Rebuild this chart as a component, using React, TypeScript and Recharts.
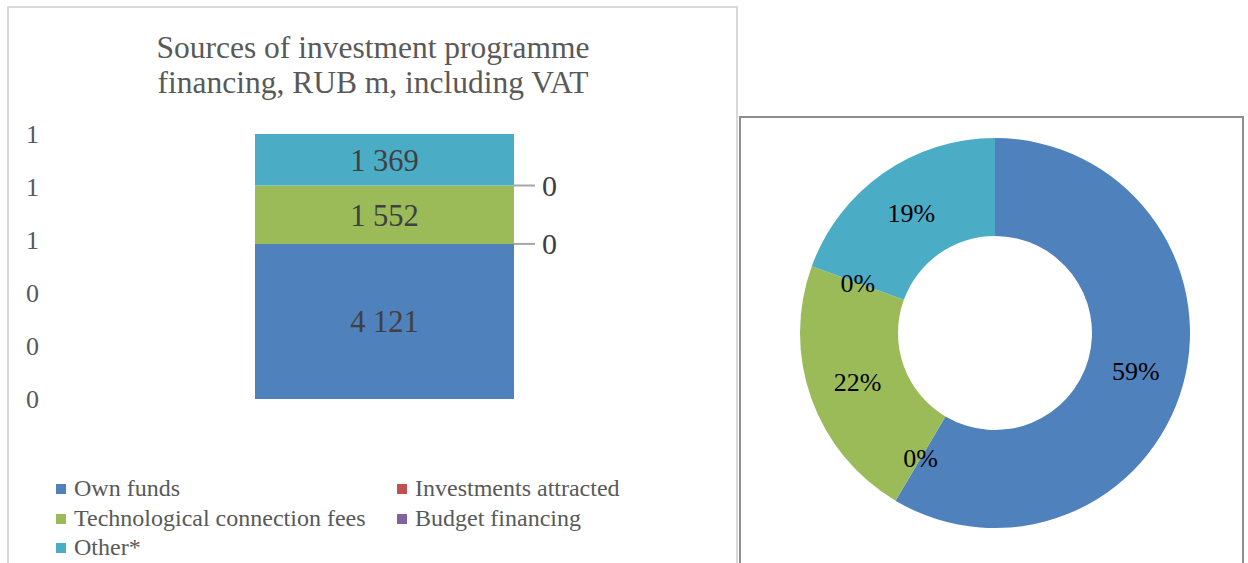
import React from 'react';
import { BarChart, Bar, XAxis, YAxis, LabelList, PieChart, Pie, Cell } from 'recharts';

const seriesKeys = ['own', 'inv', 'tech', 'budget', 'other'];
const seriesNames = ['Own funds', 'Investments attracted', 'Technological connection fees', 'Budget financing', 'Other*'];
const seriesValues = [4121, 0, 1552, 0, 1369];
const seriesColors = ['#4f81bd', '#c0504d', '#9bbb59', '#8064a2', '#4bacc6'];
const categories = ['Total'];
const yTickValues = [0, 0.2, 0.4, 0.6, 0.8, 1];
const yTickLabels = ['0', '0', '0', '1', '1', '1'];
const titleLines = ['Sources of investment programme', 'financing, RUB m, including VAT'];

const barData = categories.map((c) => {
  const row: Record<string, any> = { name: c };
  seriesKeys.forEach((k, i) => {
    row[k] = seriesValues[i];
  });
  return row;
});

const pieData = seriesNames.map((n, i) => ({ name: n, value: seriesValues[i] }));

const FONT = "'Liberation Serif', 'DejaVu Serif', serif";
const fmt = (v: any) => String(v).replace(/\B(?=(\d{3})+(?!\d))/g, ' ');

// label for a zero-valued series, drawn at the top edge of the segment below it
const makeZeroLabel = (zeroKey: string) => (props: any) => {
  const { x, y, width, index } = props;
  const xr = Number(x) + Number(width);
  const yy = Number(y);
  const v = barData[index ?? 0][zeroKey];
  return (
    <g>
      <line x1={xr} y1={yy} x2={xr + 21} y2={yy} stroke="#a6a6a6" strokeWidth={2} />
      <text
        x={xr + 28}
        y={yy}
        dominantBaseline="central"
        fill="#404040"
        fontSize={30}
        fontFamily={FONT}
      >
        {fmt(v)}
      </text>
    </g>
  );
};

const RAD = Math.PI / 180;
const renderPieLabel = (props: any) => {
  const { cx, cy, midAngle, innerRadius, outerRadius, percent } = props;
  const r = (Number(innerRadius) + Number(outerRadius)) / 2;
  const x = Number(cx) + r * Math.cos(-midAngle * RAD);
  const y = Number(cy) + r * Math.sin(-midAngle * RAD);
  return (
    <text
      x={x}
      y={y}
      textAnchor="middle"
      dominantBaseline="central"
      fill="#000000"
      fontSize={26}
      fontFamily={FONT}
    >
      {`${Math.round(percent * 100)}%`}
    </text>
  );
};

export default function App() {
  return (
    <div
      style={{
        position: 'absolute',
        left: 0,
        top: 0,
        width: 1248,
        height: 563,
        overflow: 'hidden',
        background: '#ffffff',
        fontFamily: FONT,
      }}
    >
      <div
        style={{
          position: 'absolute',
          left: 7,
          top: 6,
          width: 731,
          height: 620,
          boxSizing: 'border-box',
          border: '2px solid #d9d9d9',
        }}
      />
      <div
        style={{
          position: 'absolute',
          left: 739,
          top: 116,
          width: 505,
          height: 520,
          boxSizing: 'border-box',
          border: '2px solid #8e8e8e',
        }}
      />
      <div
        style={{
          position: 'absolute',
          left: 8,
          top: 30,
          width: 730,
          textAlign: 'center',
          fontSize: 31.5,
          lineHeight: '35px',
          color: '#595959',
        }}
      >
        {titleLines.map((t, i) => (
          <div key={i}>{t}</div>
        ))}
      </div>

      <div style={{ position: 'absolute', left: 0, top: 0 }}>
        <BarChart
          width={740}
          height={563}
          data={barData}
          stackOffset="expand"
          margin={{ top: 134, right: 31, bottom: 164, left: 0 }}
        >
          <XAxis dataKey="name" hide />
          <YAxis
            type="number"
            domain={[0, 1]}
            ticks={yTickValues}
            width={60}
            axisLine={false}
            tickLine={false}
            tickSize={0}
            tickMargin={21}
            interval={0}
            tickFormatter={(v: any, i: number) => yTickLabels[i] ?? String(v)}
            tick={{ fill: '#595959', fontSize: 26, fontFamily: FONT }}
          />
          {seriesKeys.map((k, i) => {
            const nextKey = seriesKeys[i + 1];
            const nextIsZero = nextKey !== undefined && seriesValues[i + 1] === 0;
            return (
              <Bar
                key={k}
                dataKey={k}
                name={seriesNames[i]}
                stackId="a"
                fill={seriesColors[i]}
                barSize={259}
                isAnimationActive={false}
              >
                {seriesValues[i] !== 0 && (
                  <LabelList
                    dataKey={k}
                    position="center"
                    formatter={(v: any) => fmt(v)}
                    fill="#404040"
                    fontSize={30.5}
                    fontFamily={FONT}
                  />
                )}
                {nextIsZero && <LabelList dataKey={nextKey} content={makeZeroLabel(nextKey)} />}
              </Bar>
            );
          })}
        </BarChart>
      </div>

      {seriesNames.map((n, i) => {
        const col = i % 2;
        const row = Math.floor(i / 2);
        const left = col === 0 ? 56 : 397;
        const top = 474 + row * 29.5;
        return (
          <div
            key={n}
            style={{
              position: 'absolute',
              left,
              top,
              height: 29,
              lineHeight: '29px',
              fontSize: 24,
              color: '#595959',
              whiteSpace: 'nowrap',
            }}
          >
            <span
              style={{
                position: 'absolute',
                left: 0,
                top: 10,
                width: 10,
                height: 10,
                background: seriesColors[i],
              }}
            />
            <span style={{ position: 'absolute', left: 18, top: 0 }}>{n}</span>
          </div>
        );
      })}

      <div style={{ position: 'absolute', left: 740, top: 117 }}>
        <PieChart width={503} height={446} margin={{ top: 0, right: 0, bottom: 0, left: 0 }}>
          <Pie
            data={pieData}
            dataKey="value"
            nameKey="name"
            cx={255}
            cy={216}
            innerRadius={97}
            outerRadius={195}
            startAngle={90}
            endAngle={-270}
            stroke="none"
            label={renderPieLabel}
            labelLine={false}
            isAnimationActive={false}
          >
            {pieData.map((d, i) => (
              <Cell key={d.name} fill={seriesColors[i]} />
            ))}
          </Pie>
        </PieChart>
      </div>
    </div>
  );
}
